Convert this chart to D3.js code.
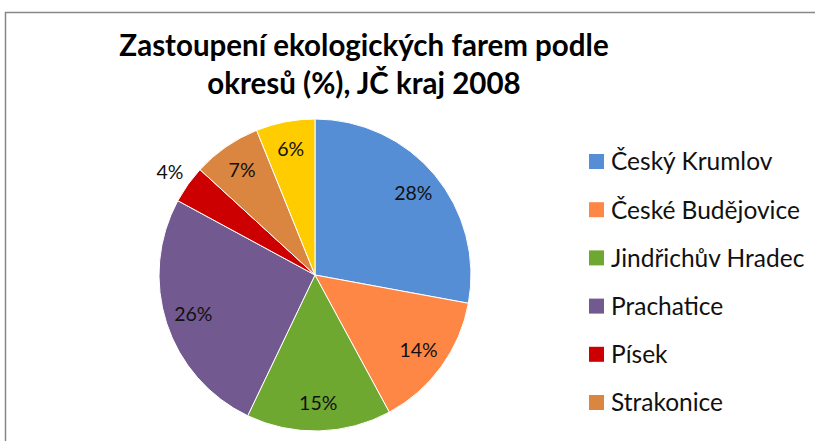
<!DOCTYPE html>
<meta charset="utf-8">
<style>
body { margin: 0; background: #fff; }
svg { display: block; font-family: Lato, "Open Sans", sans-serif; }
.title { font-weight: bold; font-size: 29.5px; fill: #000; }
.legend text { font-size: 24.5px; fill: #111; }
.label { font-size: 19.5px; fill: #111; }
</style>
<svg width="815" height="441"></svg>
<script src="https://cdn.jsdelivr.net/npm/d3@7"></script>
<script>

var districts = ["Český Krumlov", "České Budějovice", "Jindřichův Hradec", "Prachatice", "Písek", "Strakonice", "Tábor"];
var shares = [27.9, 14.2, 15.0, 25.8, 3.9, 7.1, 6.1];
var colours = ["#558ed5", "#ff8746", "#6fa830", "#72598f", "#cc0000", "#da8640", "#ffcc00"];
var titleLines = ["Zastoupení ekologických farem podle", "okresů (%), JČ kraj 2008"];

var svg = d3.select("svg"),
    width = +svg.attr("width"),
    height = +svg.attr("height");

// chart area frame (only top and left visible in the crop)
svg.append("path")
    .attr("d", "M5.5," + height + "V12.5H" + width)
    .attr("fill", "none")
    .attr("stroke", "#878787")
    .attr("stroke-width", 1.5);

svg.append("g").attr("class", "title")
  .selectAll("text")
  .data(titleLines)
  .enter().append("text")
    .attr("x", 364)
    .attr("y", function(d, i) { return 56 + i * 38; })
    .attr("text-anchor", "middle")
    .text(function(d) { return d; });

var cx = 315, cy = 275, radius = 156;

var pie = d3.pie().sort(null).value(function(d) { return d; });
var arc = d3.arc().innerRadius(0).outerRadius(radius);
var inArc = d3.arc().innerRadius(128).outerRadius(128);
var outArc = d3.arc().innerRadius(178).outerRadius(178);

var arcs = pie(shares);

var g = svg.append("g").attr("transform", "translate(" + cx + "," + cy + ")");

g.selectAll("path")
  .data(arcs)
  .enter().append("path")
    .attr("d", arc)
    .attr("fill", function(d, i) { return colours[i]; })
    .attr("stroke", "#fff")
    .attr("stroke-width", 1);

g.selectAll("text")
  .data(arcs)
  .enter().append("text")
    .attr("class", "label")
    .attr("transform", function(d) {
      var c = d.data < 5 ? outArc.centroid(d) : inArc.centroid(d);
      return "translate(" + c + ")";
    })
    .attr("text-anchor", "middle")
    .attr("dy", "0.35em")
    .text(function(d) { return Math.round(d.data) + "%"; });

// legend runs past the bottom of the picture; only draw the entries that fit
var rowY = function(i) { return 161.5 + i * 48.2; };

var legend = svg.append("g").attr("class", "legend")
  .selectAll("g")
  .data(districts.filter(function(d, i) { return rowY(i) + 10 < height; }))
  .enter().append("g")
    .attr("transform", function(d, i) { return "translate(589," + rowY(i) + ")"; });

legend.append("rect")
    .attr("x", 0)
    .attr("y", -7.5)
    .attr("width", 15)
    .attr("height", 15)
    .attr("fill", function(d, i) { return colours[i]; });

legend.append("text")
    .attr("x", 22)
    .attr("dy", "0.36em")
    .text(function(d) { return d; });

</script>
